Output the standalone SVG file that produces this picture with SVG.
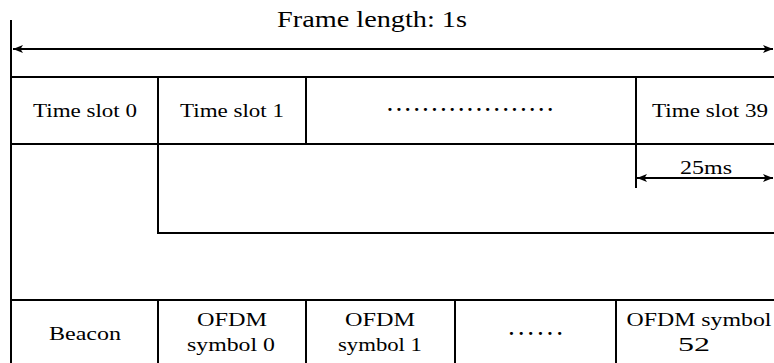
<svg xmlns="http://www.w3.org/2000/svg" width="774" height="363" viewBox="0 0 774 363">
<style>
.ln{stroke:#000;stroke-width:2;fill:none}
.t{font-family:'Times New Roman','Liberation Serif',Times,serif;font-size:19.5px;fill:#000;text-anchor:middle}
</style>
<defs>
<marker id="ah" viewBox="0 0 10 8" refX="10" refY="4" markerWidth="10" markerHeight="8" markerUnits="userSpaceOnUse" orient="auto-start-reverse">
<path d="M0,0 L10,4 L0,8 L2.5,4 Z" fill="#000"/>
</marker>
</defs>
<rect width="774" height="363" fill="#fff"/>
<g id="connectors">
<line class="ln" x1="11" y1="20" x2="11" y2="363"/>
<line class="ln" x1="13" y1="49" x2="773" y2="49" marker-start="url(#ah)" marker-end="url(#ah)"/>
<line class="ln" x1="637" y1="178" x2="773" y2="178" marker-start="url(#ah)" marker-end="url(#ah)"/>
<line class="ln" x1="636" y1="144" x2="636" y2="188"/>
<polyline class="ln" points="158,144 158,233 774,233"/>
</g>
<g id="frame-label"><text class="t" x="372" y="27" style="font-size:23.5px" textLength="190" lengthAdjust="spacingAndGlyphs">Frame length: 1s</text></g>
<g id="slot0"><rect class="ln" x="11" y="77" width="147" height="67"/><text class="t" x="85" y="117" textLength="104" lengthAdjust="spacingAndGlyphs">Time slot 0</text></g>
<g id="slot1"><rect class="ln" x="158" y="77" width="148" height="67"/><text class="t" x="232" y="117" textLength="104" lengthAdjust="spacingAndGlyphs">Time slot 1</text></g>
<g id="slot-dots"><rect class="ln" x="306" y="77" width="330" height="67"/><text class="t" x="470" y="111" textLength="165" style="font-weight:bold">...................</text></g>
<g id="slot39"><path class="ln" d="M636,77 H775 M636,144 H775 M636,77 V144"/><text class="t" x="710" y="117" textLength="116" lengthAdjust="spacingAndGlyphs">Time slot 39</text></g>
<g id="dur-label"><text class="t" x="706" y="174" textLength="52" lengthAdjust="spacingAndGlyphs">25ms</text></g>
<g id="beacon"><rect class="ln" x="11" y="300" width="147" height="70"/><text class="t" x="85" y="340" textLength="72" lengthAdjust="spacingAndGlyphs">Beacon</text></g>
<g id="sym0"><rect class="ln" x="158" y="300" width="148" height="70"/><text class="t" x="232" y="326" textLength="70" lengthAdjust="spacingAndGlyphs">OFDM</text><text class="t" x="231" y="351" textLength="88" lengthAdjust="spacingAndGlyphs">symbol 0</text></g>
<g id="sym1"><rect class="ln" x="306" y="300" width="149" height="70"/><text class="t" x="380" y="326" textLength="70" lengthAdjust="spacingAndGlyphs">OFDM</text><text class="t" x="380" y="351" textLength="84" lengthAdjust="spacingAndGlyphs">symbol 1</text></g>
<g id="sym-dots"><rect class="ln" x="455" y="300" width="161" height="70"/><text class="t" x="535.5" y="335" textLength="53" style="font-weight:bold">......</text></g>
<g id="sym52"><path class="ln" d="M616,300 H775 M616,300 V363"/><text class="t" x="699" y="326" textLength="145" lengthAdjust="spacingAndGlyphs">OFDM symbol</text><text class="t" x="694" y="351" textLength="32" lengthAdjust="spacingAndGlyphs">52</text></g>
</svg>
